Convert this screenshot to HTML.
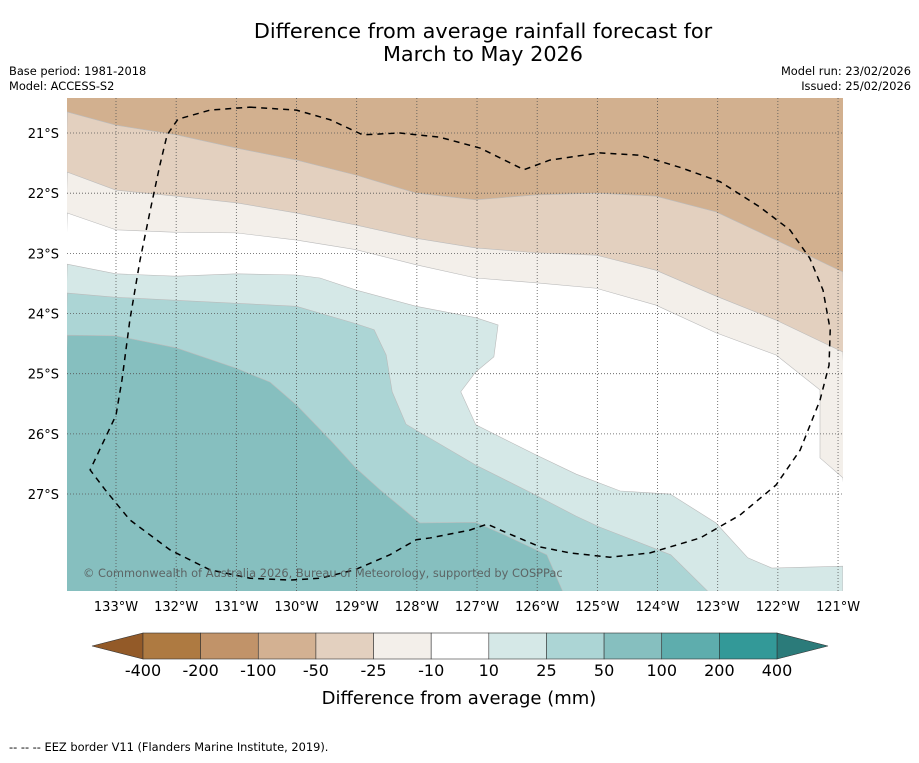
<!DOCTYPE html>
<html><head><meta charset="utf-8"><style>
body{margin:0;background:#fff;}
svg text{font-family:"DejaVu Sans","Liberation Sans",sans-serif;}
</style></head><body>
<svg id="c" width="919" height="758" xmlns="http://www.w3.org/2000/svg">
<text x="483" y="38" font-size="20.8" text-anchor="middle">Difference from average rainfall forecast for</text>
<text x="483" y="61" font-size="20.8" text-anchor="middle">March to May 2026</text>
<text x="9" y="75" font-size="11.4">Base period: 1981-2018</text>
<text x="9" y="90" font-size="11.4">Model: ACCESS-S2</text>
<text x="911" y="75" font-size="11.4" text-anchor="end">Model run: 23/02/2026</text>
<text x="911" y="90" font-size="11.4" text-anchor="end">Issued: 25/02/2026</text>
<defs><clipPath id="mc"><rect x="67" y="98" width="776" height="493"/></clipPath></defs>
<g id="map" clip-path="url(#mc)"></g>
<g id="axes"></g>
<g id="cbar"></g>
<text x="459" y="704" font-size="18" text-anchor="middle">Difference from average (mm)</text>
<text x="9" y="751" font-size="11.4">--  --  -- EEZ border V11 (Flanders Marine Institute, 2019).</text>
</svg>
<script>
// data (lon in degrees West, lat in degrees South)
const bndA=[[133.81,20.65],[133,20.87],[132,21.03],[131,21.25],[130,21.45],[129.01,21.70],[128.01,22.0],[127.02,22.11],[126.02,22.03],[125.02,22.0],[124.03,22.05],[123.03,22.31],[122.03,22.78],[120.92,23.31]];
const bndB=[[133.81,21.65],[133,21.95],[132,22.05],[131,22.16],[130,22.33],[129.01,22.53],[128.01,22.75],[127.02,22.91],[126.02,22.99],[125.02,23.03],[124.03,23.28],[123.03,23.71],[122.03,24.11],[120.92,24.64]];
const bndC=[[133.81,22.33],[133,22.61],[132,22.65],[131,22.66],[130,22.78],[129.01,22.94],[128.01,23.19],[127.02,23.41],[126.02,23.49],[125.02,23.58],[124.03,23.86],[123.03,24.32],[122.03,24.69],[121.30,25.27],[121.30,26.40],[120.92,26.73]];
const bndD=[[133.81,23.18],[133,23.34],[132,23.38],[131,23.34],[130,23.36],[129.61,23.41],[129.01,23.61],[128.01,23.88],[127.02,24.07],[126.65,24.19],[126.72,24.72],[127.02,24.97],[127.27,25.30],[127.02,25.85],[126.02,26.35],[125.35,26.67],[124.62,26.95],[123.79,27.0],[123.03,27.48],[122.50,28.06],[122.10,28.23],[120.92,28.20],[120.92,28.7]];
const bndE=[[133.81,23.66],[133,23.73],[132,23.78],[131,23.83],[130,23.88],[129.01,24.17],[128.71,24.27],[128.51,24.69],[128.41,25.30],[128.18,25.84],[127.02,26.52],[126.02,27.02],[125.35,27.37],[124.96,27.55],[123.78,28.01],[123.08,28.7]];
const bndF=[[133.81,24.36],[133,24.37],[132,24.57],[131,24.91],[130.44,25.14],[130,25.52],[129.44,26.10],[129.01,26.57],[128.61,26.93],[127.95,27.48],[127.02,27.47],[126.52,27.69],[125.84,28.01],[125.54,28.7]];
const eez=[[130.77,20.57],[130.0,20.62],[129.44,20.78],[128.90,21.03],[128.28,21.0],[127.62,21.07],[126.95,21.25],[126.22,21.61],[125.79,21.45],[124.96,21.33],[124.29,21.37],[123.63,21.57],[122.96,21.81],[122.30,22.23],[121.80,22.61],[121.47,23.08],[121.25,23.61],[121.13,24.27],[121.15,24.86],[121.30,25.44],[121.63,26.27],[122.03,26.85],[122.63,27.35],[123.29,27.73],[124.13,27.98],[124.79,28.05],[125.45,27.98],[125.95,27.88],[126.54,27.63],[126.83,27.50],[127.12,27.60],[127.78,27.73],[128.01,27.76],[128.45,28.01],[129.03,28.26],[129.61,28.40],[130.11,28.43],[130.77,28.40],[131.44,28.26],[132.10,27.93],[132.77,27.43],[133.18,26.93],[133.43,26.60],[133.0,25.69],[132.90,25.10],[132.77,24.11],[132.60,23.11],[132.43,22.28],[132.27,21.53],[132.15,21.03],[131.97,20.77],[131.44,20.62],[130.77,20.57]];
const lonTicks=[133,132,131,130,129,128,127,126,125,124,123,122,121];
const latTicks=[21,22,23,24,25,26,27];
const cbLabels=["-400","-200","-100","-50","-25","-10","10","25","50","100","200","400"];
const cbColors=["#ae7a41","#c19369","#d3b192","#e3d0bf","#f3efea","#ffffff","#d5e8e7","#acd5d5","#86bfbf","#5eadad","#339998"];

const PX=60.17;
const X=lon=>116+(133-lon)*PX;
const Y=lat=>133+(lat-21)*PX;
const NS='http://www.w3.org/2000/svg';
function mk(tag,attrs,parent){const e=document.createElementNS(NS,tag);for(const k in attrs)e.setAttribute(k,attrs[k]);parent.appendChild(e);return e;}
const map=document.getElementById('map');
const B=[[120.7,29],[134,29]];
function band(pts,color,name){
  const all=pts.concat(B);
  const p=mk('polygon',{points:all.map(q=>X(q[0])+','+Y(q[1])).join(' '),fill:color,stroke:'#bbb','stroke-width':0.6},map);
  
  
}
const bg=mk('rect',{x:67,y:98,width:776,height:493,fill:'#d2b08f'},map);


band(bndA,'#e3d0bf','band-minus-50-to-25');
band(bndB,'#f3efea','band-minus-25-to-10');
band(bndC,'#ffffff','band-near-average');
band(bndD,'#d5e8e7','band-10-to-25');
band(bndE,'#acd5d5','band-25-to-50');
band(bndF,'#86bfbf','band-50-to-100');
lonTicks.forEach(l=>{const g=mk('line',{x1:X(l),x2:X(l),y1:98,y2:591,stroke:'#555','stroke-width':0.8,'stroke-dasharray':'1,2'},map);

});
latTicks.forEach(l=>{const g=mk('line',{x1:67,x2:843,y1:Y(l),y2:Y(l),stroke:'#555','stroke-width':0.8,'stroke-dasharray':'1,2'},map);

});
const ez=mk('polyline',{points:eez.map(q=>X(q[0])+','+Y(q[1])).join(' '),fill:'none',stroke:'#000','stroke-width':1.5,'stroke-dasharray':'6,5'},map);


const cp=mk('text',{x:83,y:577,'font-size':11.4,fill:'#555','fill-opacity':0.85},map);
cp.textContent='© Commonwealth of Australia 2026, Bureau of Meteorology, supported by COSPPac';


const ax=document.getElementById('axes');
lonTicks.forEach(l=>{const t=mk('text',{x:X(l),y:611,'font-size':13,'text-anchor':'middle'},ax);t.textContent=l+'°W';

});
latTicks.forEach(l=>{const t=mk('text',{x:59,y:Y(l)+5,'font-size':13,'text-anchor':'end'},ax);t.textContent=l+'°S';

});
const cb=document.getElementById('cbar');
const x0=143,x1=777,w=(x1-x0)/cbColors.length,ty=633,h=26;
const lt=mk('polygon',{points:`92,${ty+h/2} ${x0},${ty} ${x0},${ty+h}`,fill:'#935a28',stroke:'#333','stroke-width':0.6},cb);


const rt=mk('polygon',{points:`828,${ty+h/2} ${x1},${ty} ${x1},${ty+h}`,fill:'#2b7b7a',stroke:'#333','stroke-width':0.6},cb);


cbColors.forEach((c,i)=>{const r=mk('rect',{x:x0+i*w,y:ty,width:w,height:h,fill:c,stroke:'#333','stroke-width':0.6},cb);

});
cbLabels.forEach((s,i)=>{const t=mk('text',{x:x0+i*w,y:676,'font-size':16,'text-anchor':'middle'},cb);t.textContent=s;

});
</script>
</body></html>
